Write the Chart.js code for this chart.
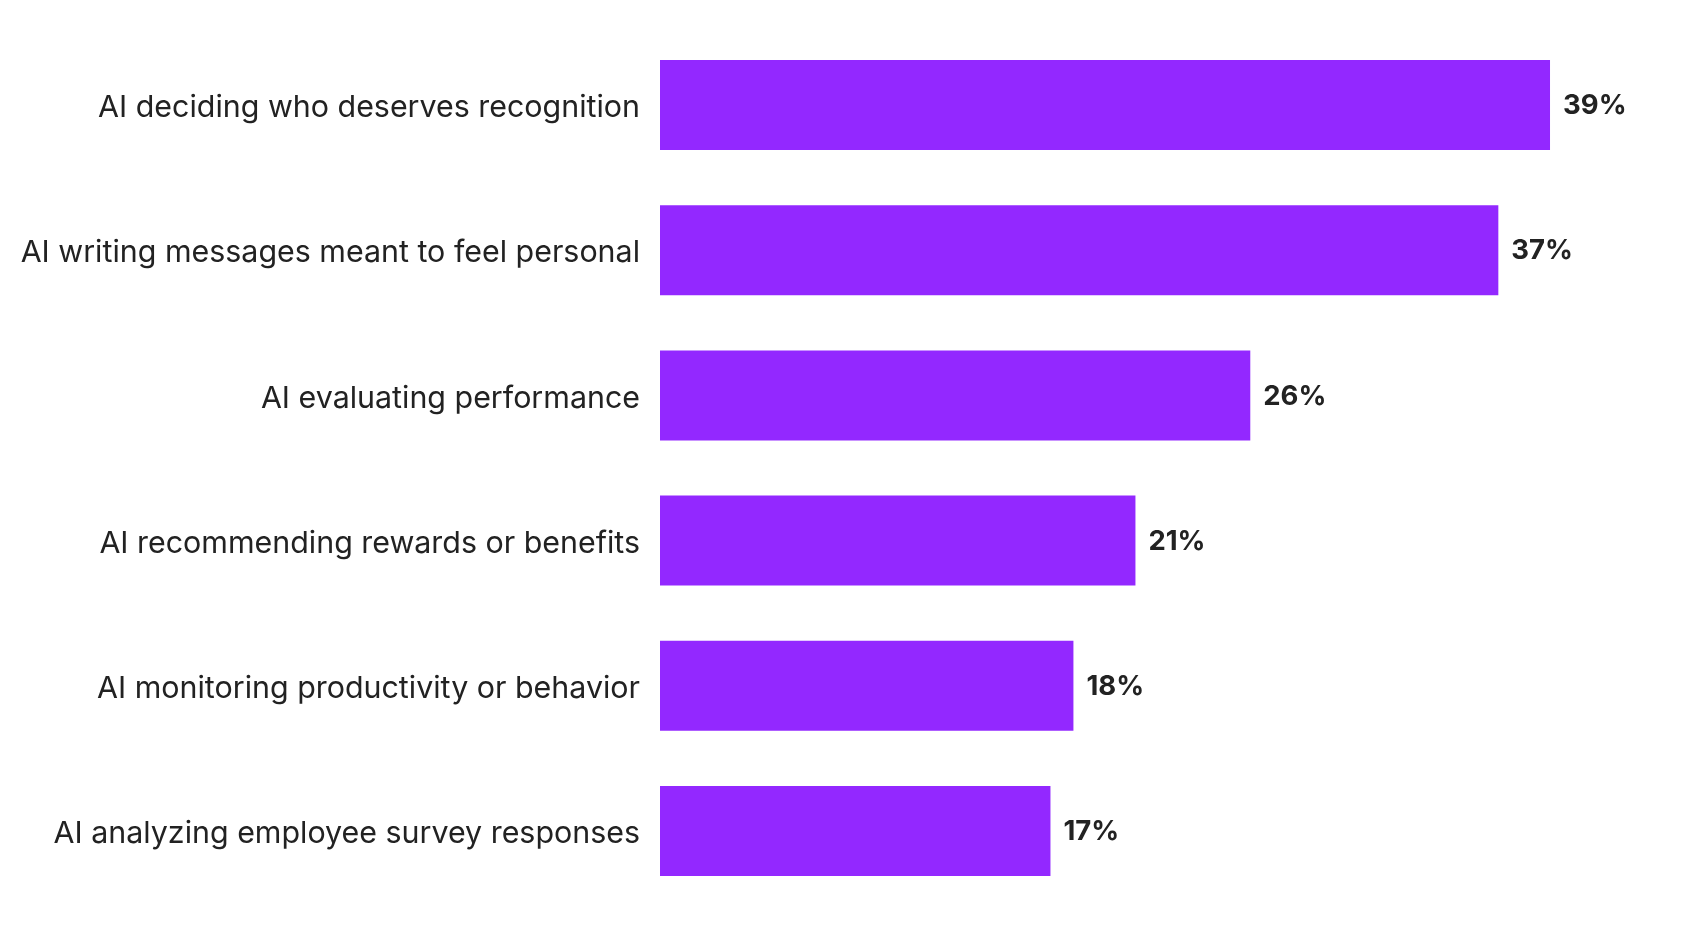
<!DOCTYPE html>
<html>
<head>
<meta charset="utf-8">
<script src="https://cdn.jsdelivr.net/npm/chart.js@4.4.1/dist/chart.umd.min.js"></script>
<style>
  html, body { margin: 0; padding: 0; background: #ffffff; }
  #wrap { width: 1694px; height: 937px; position: relative; }
</style>
</head>
<body>
<div id="wrap"><canvas id="c" width="1694" height="937"></canvas></div>
<script>
const categories = [
  "AI deciding who deserves recognition",
  "AI writing messages meant to feel personal",
  "AI evaluating performance",
  "AI recommending rewards or benefits",
  "AI monitoring productivity or behavior",
  "AI analyzing employee survey responses"
];
const values = [38.75, 36.5, 25.7, 20.7, 18.0, 17.0];
const valueLabels = ["39%", "37%", "26%", "21%", "18%", "17%"];

const valueLabelPlugin = {
  id: 'valueLabels',
  afterDatasetsDraw(chart) {
    const ctx = chart.ctx;
    const meta = chart.getDatasetMeta(0);
    ctx.save();
    ctx.font = '700 27.5px Inter';
    ctx.fillStyle = '#222222';
    ctx.textAlign = 'left';
    ctx.textBaseline = 'middle';
    meta.data.forEach((bar, i) => {
      ctx.fillText(valueLabels[i], bar.x + 13, bar.y + 1);
    });
    ctx.restore();
  }
};

new Chart(document.getElementById('c'), {
  type: 'bar',
  data: {
    labels: categories,
    datasets: [{
      data: values,
      backgroundColor: '#9328FF',
      borderWidth: 0,
      barPercentage: 0.62,
      categoryPercentage: 1.0
    }]
  },
  options: {
    indexAxis: 'y',
    responsive: false,
    animation: false,
    devicePixelRatio: 1,
    layout: { padding: { top: 32.4, bottom: 33.4, left: 0, right: 23.4 } },
    plugins: { legend: { display: false }, tooltip: { enabled: false } },
    scales: {
      x: { display: false, min: 0, max: 44 },
      y: {
        grid: { display: false, drawTicks: false },
        border: { display: false },
        ticks: {
          color: '#222222',
          padding: 20,
          labelOffset: 3,
          font: { family: 'Inter', size: 30.4, weight: '400' }
        },
        afterFit(scale) {
          scale.width = 660;
          scale.paddingTop = 0;
          scale.paddingBottom = 0;
        }
      }
    }
  },
  plugins: [valueLabelPlugin]
});
</script>
</body>
</html>
